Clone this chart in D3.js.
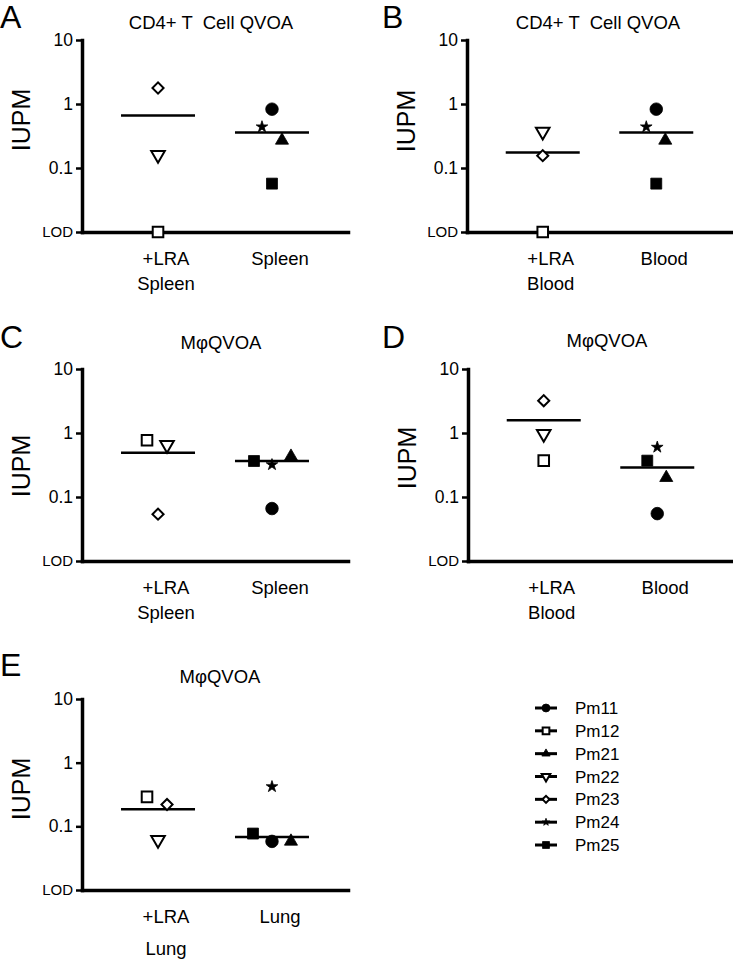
<!DOCTYPE html>
<html><head><meta charset="utf-8">
<script src="https://cdn.jsdelivr.net/npm/d3@7"></script>
<style>
body{margin:0;background:#fff}
text{font-family:Arial,"Liberation Sans",Helvetica,sans-serif;fill:#000;white-space:pre}
</style>
</head><body>
<svg id="chart" width="733" height="959"></svg>
<script>
// ---------- data ----------
const subjects = ["Pm11","Pm12","Pm21","Pm22","Pm23","Pm24","Pm25"];
const yTicks = [0.01, 0.1, 1, 10];
const yTickLabels = ["LOD", "0.1", "1", "10"];
const yLabel = "IUPM";
const titleCD4 = "CD4+ T  Cell QVOA";
const titleMac = "MφQVOA";

const catsA = ["+LRA Spleen", "Spleen"];
const catsB = ["+LRA Blood", "Blood"];
const catsC = ["+LRA Spleen", "Spleen"];
const catsD = ["+LRA Blood", "Blood"];
const catsE = ["+LRA Lung", "Lung"];

// values in subject order (null = not plotted)
const A_lra  = [null, 0.01, null, 0.16, 1.78, null, null];
const A_base = [0.83, null, 0.27, null, null, 0.44, 0.057];
const A_mean = [0.66, 0.36];

const B_lra  = [null, 0.01, null, 0.37, 0.156, null, null];
const B_base = [0.83, null, 0.27, null, null, 0.44, 0.057];
const B_mean = [0.174, 0.36];

const C_lra  = [null, 0.77, null, 0.65, 0.054, null, null];
const C_base = [0.066, null, 0.43, null, null, 0.32, 0.365];
const C_mean = [0.49, 0.365];

const D_lra  = [null, 0.37, null, 0.97, 3.2, null, null];
const D_base = [0.055, null, 0.2, null, null, 0.6, 0.37];
const D_mean = [1.58, 0.29];

const E_lra  = [null, 0.29, null, 0.061, 0.22, null, null];
const E_base = [0.058, null, 0.058, null, null, 0.42, 0.077];
const E_mean = [0.186, 0.068];

// ---------- layout / style ----------
const layout = {
  A:{x0:82, xEnd:348, yTop:40, yBot:232, tx:211, ty:29, lx:0, ly:28, labY:120, cat2dy:25,
     jit:[[0,0,0,0,0,0,0],[0,0,10,0,0,-10,0]]},
  B:{x0:467, xEnd:732, yTop:40, yBot:232, tx:598, ty:29, lx:382, ly:28, labY:121, cat2dy:25,
     jit:[[0,0,0,0,0,0,0],[0,0,9,0,0,-10,0]]},
  C:{x0:82, xEnd:348, yTop:369, yBot:561, tx:221, ty:349, lx:0, ly:348, labY:466, cat2dy:25,
     jit:[[0,-11,0,9,0,0,0],[0,0,19,0,0,0,-18]]},
  D:{x0:468, xEnd:733, yTop:369, yBot:561, tx:607, ty:347, lx:382, ly:348, labY:458, cat2dy:25,
     jit:[[0,0,0,0,0,0,0],[0,0,9,0,0,0,-10]]},
  E:{x0:82, xEnd:348, yTop:699, yBot:890, tx:220, ty:683, lx:0, ly:676, labY:789, cat2dy:32,
     jit:[[0,-11,0,0,9,0,0],[0,0,19,0,0,0,-19]]}
};
const symbols = {
  Pm11:{type:d3.symbolCircle,   size:124, fill:true,  rot:0},
  Pm12:{type:d3.symbolSquare,   size:112, fill:false, rot:0},
  Pm21:{type:d3.symbolTriangle, size:74,  fill:true,  rot:0},
  Pm22:{type:d3.symbolTriangle, size:80,  fill:false, rot:180},
  Pm23:{type:d3.symbolSquare,   size:62,  fill:false, rot:45},
  Pm24:{type:d3.symbolStar,     size:42,  fill:true,  rot:0},
  Pm25:{type:d3.symbolSquare,   size:120, fill:true,  rot:0}
};

const panels = [
  {id:"A", title:titleCD4, cats:catsA, groups:[A_lra, A_base], means:A_mean},
  {id:"B", title:titleCD4, cats:catsB, groups:[B_lra, B_base], means:B_mean},
  {id:"C", title:titleMac, cats:catsC, groups:[C_lra, C_base], means:C_mean},
  {id:"D", title:titleMac, cats:catsD, groups:[D_lra, D_base], means:D_mean},
  {id:"E", title:titleMac, cats:catsE, groups:[E_lra, E_base], means:E_mean}
];

const svg = d3.select("#chart");

function drawSymbol(g, name, cx, cy, scale) {
  const s = symbols[name];
  g.append("path")
    .attr("d", d3.symbol().type(s.type).size(s.size * scale)())
    .attr("transform", `translate(${cx},${cy}) rotate(${s.rot})`)
    .attr("fill", s.fill ? "#000" : "#fff")
    .attr("stroke", "#000")
    .attr("stroke-width", s.fill ? 0.8 : 2);
}

panels.forEach(p => {
  const L = layout[p.id];
  const g = svg.append("g");
  const y = d3.scaleLog().domain([0.01, 10]).range([L.yBot, L.yTop]);
  const x = d3.scalePoint().domain(p.cats).range([L.x0, L.xEnd]).padding(0.667);

  // panel letter
  g.append("text").attr("x", L.lx).attr("y", L.ly).attr("font-size", 32).text(p.id);
  // title
  g.append("text").attr("x", L.tx).attr("y", L.ty).attr("text-anchor", "middle")
    .attr("font-size", 18.5).text(p.title);
  // y label
  g.append("text")
    .attr("transform", `translate(${L.x0 - 52},${L.labY}) rotate(-90)`)
    .attr("text-anchor", "middle").attr("font-size", 25).text(yLabel);

  // x axis
  const gx = g.append("g").attr("transform", `translate(0,${L.yBot})`)
    .call(d3.axisBottom(x).tickValues([]).tickSizeOuter(0));
  gx.select(".domain").attr("stroke-width", 3.5).attr("stroke-linecap", "square");

  // y axis
  const gy = g.append("g").attr("transform", `translate(${L.x0},0)`)
    .call(d3.axisLeft(y).tickValues(yTicks).tickFormat((d, i) => yTickLabels[i])
      .tickSize(6).tickSizeOuter(0).tickPadding(3));
  gy.select(".domain").attr("stroke-width", 3.5).attr("stroke-linecap", "square");
  gy.selectAll(".tick line").attr("stroke-width", 2.5);
  gy.selectAll(".tick text").attr("font-family", "Arial, 'Liberation Sans', sans-serif")
    .attr("font-size", (d) => d === 0.01 ? 15 : 17.5).attr("fill", "#000");

  // category labels
  p.cats.forEach(c => {
    const lines = c.startsWith("+LRA") ? ["+LRA", c.slice(5)] : [c];
    lines.forEach((t, i) => {
      g.append("text").attr("x", x(c) + 8).attr("y", L.yBot + 33 + i * L.cat2dy)
        .attr("text-anchor", "middle").attr("font-size", 18.5).text(t);
    });
  });

  // mean lines
  p.means.forEach((m, gi) => {
    const cx = x(p.cats[gi]);
    g.append("line").attr("x1", cx - 37).attr("x2", cx + 37)
      .attr("y1", y(m)).attr("y2", y(m)).attr("stroke", "#000").attr("stroke-width", 2.5);
  });

  // points
  p.groups.forEach((vals, gi) => {
    const cx = x(p.cats[gi]);
    vals.forEach((v, si) => {
      if (v == null) return;
      drawSymbol(g, subjects[si], cx + L.jit[gi][si], y(v), 1);
    });
  });
});

// legend
const ly = d3.scalePoint().domain(subjects).range([708, 845]);
const lg = svg.append("g");
subjects.forEach(s => {
  const yy = ly(s);
  lg.append("line").attr("x1", 535).attr("x2", 557).attr("y1", yy).attr("y2", yy)
    .attr("stroke", "#000").attr("stroke-width", 3);
  drawSymbol(lg, s, 546, yy, 0.4);
  lg.append("text").attr("x", 575).attr("y", yy + 6).attr("font-size", 17).text(s);
});
</script>
</body></html>
